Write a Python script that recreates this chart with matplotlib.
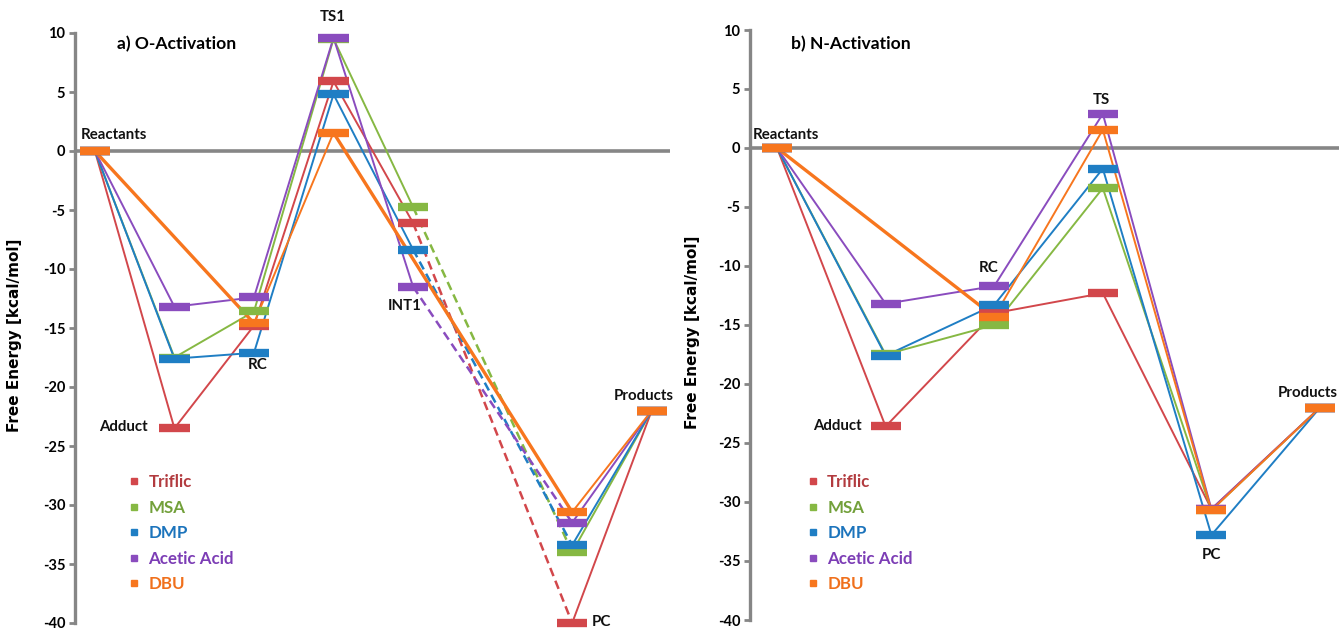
import numpy as np
import matplotlib
matplotlib.use("Agg")
import matplotlib.pyplot as plt
from matplotlib.lines import Line2D

plt.rcParams["axes.unicode_minus"] = False
nan = np.nan

# DATA

series    = ["Triflic", "MSA", "DMP", "Acetic Acid", "DBU"]
colors    = ["#D2474B", "#86B843", "#1F7EC4", "#8A4CBE", "#F7761E"]
txt_cols  = ["#B23B3F", "#72A03A", "#1C74BC", "#7C3DB5", "#F0701C"]

# a) O-Activation : Reactants, Adduct, RC, TS1, INT1, (gap), PC, Products
stages_a  = ["Reactants", "Adduct", "RC", "TS1", "INT1", "", "PC", "Products"]
triflic_a = [0, -23.5, -14.8, 5.9, -6.1, nan, -40.0, -22.0]
msa_a     = [0, -17.5, -13.6, 9.5, -4.75, nan, -34.0, -22.0]
dmp_a     = [0, -17.6, -17.1, 4.8, -8.35, nan, -33.4, -22.0]
acetic_a  = [0, -13.2, -12.4, 9.6, -11.5, nan, -31.5, -22.0]
dbu_a     = [0, nan, -14.6, 1.55, nan, nan, -30.6, -22.0]

# b) N-Activation : Reactants, Adduct, RC, TS, PC, Products
stages_b  = ["Reactants", "Adduct", "RC", "TS", "PC", "Products"]
triflic_b = [0, -23.6, -14.0, -12.3, -30.6, -22.0]
msa_b     = [0, -17.5, -15.0, -3.4, -30.7, -22.0]
dmp_b     = [0, -17.6, -13.3, -1.75, -32.8, -22.0]
acetic_b  = [0, -13.2, -11.7, 2.9, -30.6, -22.0]
dbu_b     = [0, nan, -14.3, 1.55, -30.7, -22.0]

data_a = [triflic_a, msa_a, dmp_a, acetic_a, dbu_a]
data_b = [triflic_b, msa_b, dmp_b, acetic_b, dbu_b]

# PLOTTING

W, H = 1339, 630
fig = plt.figure(figsize=(W / 100, H / 100), dpi=100)

GRAY = "#868686"
FAM  = ["Lato", "DejaVu Sans"]
LBL  = dict(family=FAM, fontweight="bold", fontsize=10.8, color="#111111")


def px_axes(l, r, t, b):
    return fig.add_axes([l / W, 1 - b / H, (r - l) / W, (b - t) / H])


def draw_panel(ax, data, stages, half, dash_from=None):
    x = np.arange(len(stages))
    ax.axhline(0, color=GRAY, lw=2.6, zorder=1)
    # connecting lines
    for k, vals in enumerate(data):
        v = np.array(vals, dtype=float)
        idx = np.where(~np.isnan(v))[0]
        for i0, i1 in zip(idx[:-1], idx[1:]):
            dashed = dash_from is not None and stages[i0] == dash_from
            thick = series[k] == "DBU" and (i1 - i0) > 1
            ax.plot([x[i0], x[i1]], [v[i0], v[i1]], color=colors[k],
                    lw=2.4 if thick else (1.8 if dashed else 1.4),
                    ls=(0, (3.5, 2)) if dashed else "-", zorder=2)
    # energy levels
    for k, vals in enumerate(data):
        v = np.array(vals, dtype=float)
        ok = ~np.isnan(v)
        ax.hlines(v[ok], x[ok] - half, x[ok] + half, color=colors[k], lw=6,
                  zorder=3 + k, clip_on=False)
    ax.set_ylim(-40, 10)
    ax.set_yticks(np.arange(-40, 11, 5))
    ax.set_xticks([])
    for s in ["top", "right", "bottom"]:
        ax.spines[s].set_visible(False)
    ax.spines["left"].set_color(GRAY)
    ax.spines["left"].set_linewidth(2.4)
    ax.tick_params(axis="y", length=4, width=2, color=GRAY, pad=3)
    for t in ax.get_yticklabels():
        t.set_fontfamily(FAM)
        t.set_fontweight("bold")
        t.set_fontsize(10.5)
    ax.set_ylabel("Free Energy [kcal/mol]", fontsize=11, fontweight="bold",
                  family="DejaVu Sans")
    handles = [Line2D([], [], ls="none", marker="s", ms=4.5, color=c) for c in colors]
    return handles


def add_legend(ax, handles, anchor):
    leg = ax.legend(handles, series, loc="upper left", bbox_to_anchor=anchor,
                    frameon=False, handlelength=0.8, handletextpad=0.45,
                    labelspacing=0.56, borderpad=0, borderaxespad=0,
                    prop=dict(family=FAM, weight="bold", size=12.2))
    for t, c in zip(leg.get_texts(), txt_cols):
        t.set_color(c)


# panel a
ax1 = px_axes(75, 670, 33, 623)
ax1.set_xlim(-0.25, 7.23)
h = draw_panel(ax1, data_a, stages_a, 0.19, dash_from="INT1")
ax1.yaxis.set_label_coords(-0.089, 0.488)
ax1.text(0.28, 9.1, "a) O-Activation", ha="left", va="center",
         family=FAM, fontweight="bold", fontsize=12.6)
ax1.text(0.24, 1.35, "Reactants", ha="center", va="center", **LBL)
ax1.text(0.66, -23.4, "Adduct", ha="right", va="center", **LBL)
ax1.text(2.04, -18.1, "RC", ha="center", va="center", **LBL)
ax1.text(2.99, 11.35, "TS1", ha="center", va="center", **LBL)
ax1.text(3.9, -13.1, "INT1", ha="center", va="center", **LBL)
ax1.text(6.25, -39.9, "PC", ha="left", va="center", **LBL)
ax1.text(6.9, -20.8, "Products", ha="center", va="center", **LBL)
add_legend(ax1, h, (0.088, 0.252))

# panel b
ax2 = px_axes(750, 1339, 30, 620)
ax2.set_xlim(-0.249, 5.175)
h = draw_panel(ax2, data_b, stages_b, 0.138)
ax2.yaxis.set_label_coords(-0.085, 0.488)
ax2.text(0.13, 8.8, "b) N-Activation", ha="left", va="center",
         family=FAM, fontweight="bold", fontsize=12.6)
ax2.text(0.08, 1.1, "Reactants", ha="center", va="center", **LBL)
ax2.text(0.78, -23.55, "Adduct", ha="right", va="center", **LBL)
ax2.text(1.95, -10.2, "RC", ha="center", va="center", **LBL)
ax2.text(2.99, 4.07, "TS", ha="center", va="center", **LBL)
ax2.text(4.0, -34.5, "PC", ha="center", va="center", **LBL)
ax2.text(0.998, -20.8, "Products", ha="right", va="center",
         transform=ax2.get_yaxis_transform(), **LBL)
add_legend(ax2, h, (0.095, 0.247))

fig.savefig("out.png", dpi=100)
